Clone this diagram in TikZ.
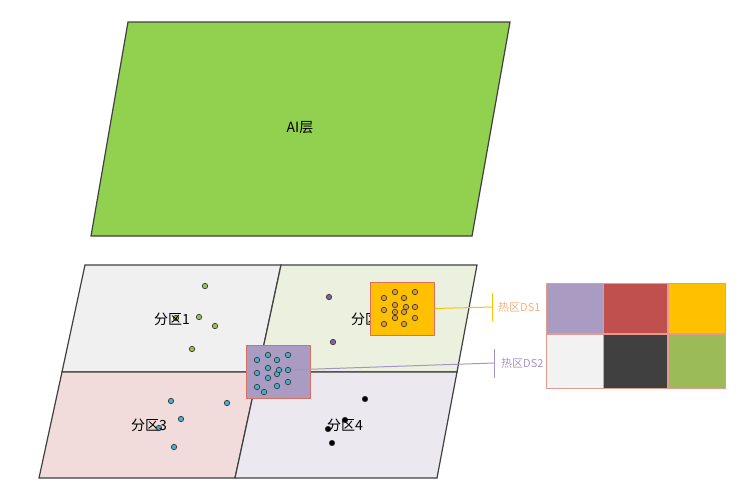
\documentclass[tikz,border=0pt]{standalone}
\usepackage{fontspec}
\setmainfont{Noto Sans CJK SC}
\usetikzlibrary{positioning}
\definecolor{ailayer}{HTML}{92D050}
\definecolor{zoneA}{HTML}{F0F0F0}
\definecolor{zoneB}{HTML}{EBF1DE}
\definecolor{zoneC}{HTML}{F2DCDB}
\definecolor{zoneD}{HTML}{EBE8F0}
\definecolor{hotpurple}{HTML}{A99BC2}
\definecolor{hotorange}{HTML}{FFC000}
\definecolor{hotedge}{HTML}{D9705F}
\definecolor{cellred}{HTML}{C0504D}
\definecolor{cellgrey}{HTML}{F2F2F2}
\definecolor{celldark}{HTML}{404040}
\definecolor{cellgreen}{HTML}{9BBB59}
\definecolor{dotteal}{HTML}{4BACC6}
\definecolor{dotpurple}{HTML}{8064A2}
\definecolor{dotbrown}{HTML}{D99B2B}
\definecolor{labelorange}{HTML}{F4B183}
\definecolor{labelpurple}{HTML}{A495C6}
\tikzset{
  plane/.style={draw=black!75, line width=1.2pt},
  zonelabel/.style={font=\fontsize{14}{14}\selectfont},
  pt/.style={circle, draw=black!80, line width=0.6pt, inner sep=0pt, minimum size=5.5pt},
  hotbox/.style={draw=hotedge, line width=1pt, minimum width=64pt, minimum height=53pt, inner sep=0pt},
  cell/.style={draw=hotedge!70, line width=0.8pt, minimum width=57pt, minimum height=50pt, inner sep=0pt},
  dslabel/.style={font=\fontsize{11}{11}\selectfont, anchor=west, inner sep=1pt}
}

\begin{document}
\begin{tikzpicture}[x=1pt, y=-1pt]
        \useasboundingbox (0,0) rectangle (741,499);
        % AI layer
        \draw[plane, fill=ailayer] (128,22) -- (510,22) -- (472,236) -- (91,236) -- cycle;
        \node[font=\fontsize{14}{14}\selectfont] (ai) at (300,128) {AI层};
        % partitions
        \coordinate (TL) at (85,265);  \coordinate (TM) at (281,265); \coordinate (TR) at (477,265);
        \coordinate (ML) at (62,372);  \coordinate (MM) at (258,372); \coordinate (MR) at (457,372);
        \coordinate (BL) at (39,478);  \coordinate (BM) at (235,478); \coordinate (BR) at (437,478);
        \draw[plane, fill=zoneA] (TL) -- (TM) -- (MM) -- (ML) -- cycle;
        \draw[plane, fill=zoneB] (TM) -- (TR) -- (MR) -- (MM) -- cycle;
        \draw[plane, fill=zoneC] (ML) -- (MM) -- (BM) -- (BL) -- cycle;
        \draw[plane, fill=zoneD] (MM) -- (MR) -- (BR) -- (BM) -- cycle;
        % scattered points
        \foreach \x/\y in {205/286, 199/317, 176/318, 215/326, 192/349}
          \node[pt, fill=cellgreen] at (\x,\y) {};
        \foreach \x/\y in {329/297, 333/342}
          \node[pt, fill=dotpurple] at (\x,\y) {};
        \foreach \x/\y in {171/401, 227/403, 181/419, 159/428, 174/447}
          \node[pt, fill=dotteal] at (\x,\y) {};
        \foreach \x/\y in {365/399, 345/420, 328/429, 332/443}
          \node[pt, fill=black] at (\x,\y) {};
        \node[zonelabel] (z1) at (172,319) {分区1};
        \node[zonelabel] (z2) at (369,319) {分区2};
        \node[zonelabel] (z3) at (149,425) {分区3};
        \node[zonelabel] (z4) at (345,425) {分区4};
        % hot zones
        \node[hotbox, fill=hotorange] (ds1) at (402,308.5) {};
        \node[hotbox, fill=hotpurple] (ds2) at (278,371.5) {};
        \foreach \x/\y in {384/298, 395/292, 404/298, 415/292, 384/310, 395/305, 395/312, 404/312, 406/307, 415/307, 384/324, 395/318, 404/324, 415/318}
          \node[pt, fill=dotbrown] at (\x,\y) {};
        \foreach \x/\y in {257/360, 268/355, 277/360, 288/355, 257/373, 268/368, 268/378, 277/374, 279/370, 257/387, 264/392, 277/386, 288/382}
          \node[pt, fill=dotteal] at (\x,\y) {};
        \node[pt, fill=dotteal] (p2) at (288,370) {};
        % leaders
        \coordinate (t1) at (492,307);
        \coordinate (t2) at (494,363);
        \draw[hotorange, line width=1pt] (ds1.east) -- (t1);
        \draw[hotorange, line width=1pt] ([yshift=-14pt]t1) -- ([yshift=14pt]t1);
        \draw[labelpurple, line width=1pt] (p2) -- (t2);
        \draw[labelpurple, line width=1pt] ([yshift=-15pt]t2) -- ([yshift=14pt]t2);
        \node[dslabel, text=labelorange, right=5pt of t1] (l1) {热区DS1};
        \node[dslabel, text=labelpurple, right=6pt of t2] (l2) {热区DS2};
        % legend
        \node[cell, fill=hotpurple] (c11) at (574.5,308.5) {};
        \node[cell, fill=cellred, minimum width=64pt, right=0pt of c11] (c12) {};
        \node[cell, fill=hotorange, right=0pt of c12] (c13) {};
        \node[cell, fill=cellgrey, minimum height=54pt, below=0pt of c11] (c21) {};
        \node[cell, fill=celldark, minimum width=64pt, minimum height=54pt, right=0pt of c21] (c22) {};
        \node[cell, fill=cellgreen, minimum height=54pt, right=0pt of c22] (c23) {};
      \end{tikzpicture}
\end{document}
